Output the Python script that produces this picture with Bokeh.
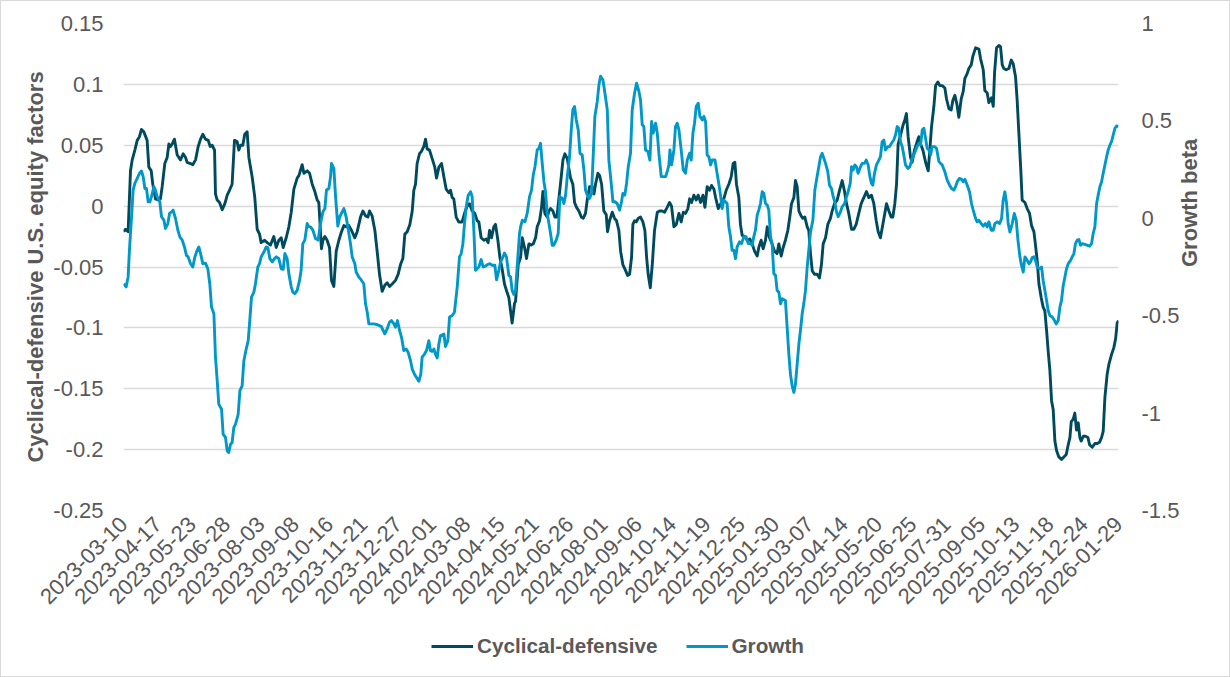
import math
from bokeh.plotting import figure
from bokeh.layouts import column
from bokeh.models import Range1d, LinearAxis, FixedTicker, Legend, LegendItem
from bokeh.embed import file_html
from bokeh.resources import INLINE

# ---- category axis (business-day index, one label every 26 days) ----
tick_labels = ["2023-03-10", "2023-04-17", "2023-05-23", "2023-06-28", "2023-08-03",
               "2023-09-08", "2023-10-16", "2023-11-21", "2023-12-27", "2024-02-01",
               "2024-03-08", "2024-04-15", "2024-05-21", "2024-06-26", "2024-08-01",
               "2024-09-06", "2024-10-14", "2024-11-19", "2024-12-25", "2025-01-30",
               "2025-03-07", "2025-04-14", "2025-05-20", "2025-06-25", "2025-07-31",
               "2025-09-05", "2025-10-13", "2025-11-18", "2025-12-24", "2026-01-29"]
label_step = 26

left_ticks = [-0.25, -0.2, -0.15, -0.1, -0.05, 0, 0.05, 0.1, 0.15]
left_tick_labels = ["-0.25", "-0.2", "-0.15", "-0.1", "-0.05", "0", "0.05", "0.1", "0.15"]
right_ticks = [-1.5, -1, -0.5, 0, 0.5, 1]
right_tick_labels = ["-1.5", "-1", "-0.5", "0", "0.5", "1"]

# ---- Cyclical-defensive (left axis) ----
cd_x = [0, 1.5, 3.5, 5.3, 6.6, 8.6, 10.4, 12.1, 13.6, 15.4,
        17.9, 19.2, 21.0, 22.2, 24.2, 26.3, 28.0, 29.3, 31.3, 33.1,
        34.4, 35.6, 36.9, 38.6, 40.7, 43.2, 45.2, 47.0, 48.2, 50.8,
        52.5, 54.6, 56.6, 58.4, 60.1, 62.1, 64.2, 65.7, 67.2, 69.0,
        69.7, 71.0, 72.8, 74.8, 76.8, 78.6, 80.3, 82.3, 84.1, 86.1,
        87.4, 88.7, 90.4, 91.9, 93.7, 95.0, 97.5, 99.5, 101.3, 103.1,
        104.3, 106.9, 108.9, 111.4, 113.9, 115.7, 117.7, 119.5, 121.0, 123.3,
        125.3, 127.1, 129.1, 131.6, 132.9, 135.4, 136.7, 139.2, 141.0, 143.0,
        145.0, 146.8, 148.0, 150.0, 151.1, 152.6, 154.3, 156.1, 157.6, 159.4,
        161.2, 163.2, 165.2, 167.0, 168.7, 170.8, 172.8, 175.3, 177.1, 179.6,
        181.4, 183.4, 185.2, 186.4, 188.4, 190.5, 192.2, 194.0, 196.0, 198.0,
        199.8, 201.6, 203.6, 206.1, 208.1, 209.9, 211.7, 213.2, 215.0, 217.0,
        218.8, 220.0, 221.3, 222.5, 224.3, 225.8, 227.6, 228.9, 230.1, 231.9,
        233.9, 235.9, 237.2, 239.0, 241.0, 242.8, 244.5, 246.5, 247.8, 249.1,
        250.3, 252.1, 254.1, 256.6, 258.7, 260.4, 262.2, 264.2, 266.2, 268.0,
        269.3, 271.0, 273.1, 274.8, 276.3, 277.4, 278.9, 280.6, 281.9, 283.7,
        285.2, 287.0, 288.7, 290.7, 292.0, 293.3, 294.5, 296.3, 297.1, 299.1,
        300.9, 302.2, 303.9, 305.4, 307.2, 309.0, 310.5, 312.3, 313.5, 315.3,
        316.8, 317.8, 319.3, 321.1, 322.4, 323.6, 325.4, 326.9, 328.4, 330.0,
        331.7, 333.0, 334.5, 336.3, 337.5, 338.8, 340.5, 341.8, 343.3, 345.1,
        346.9, 348.4, 350.1, 351.4, 353.2, 355.2, 356.5, 357.7, 359.5, 360.8,
        362.3, 364.0, 365.8, 366.8, 368.3, 370.4, 372.1, 373.6, 375.4, 376.7,
        378.4, 380.5, 382.0, 383.5, 385.0, 386.0, 387.3, 388.5, 390.1, 391.8,
        393.6, 395.1, 396.4, 397.6, 399.2, 400.7, 402.4, 404.5, 406.2, 408.2,
        410.0, 412.0, 413.8, 415.3, 417.1, 418.9, 420.9, 422.6, 424.2, 425.9,
        427.7, 429.0, 430.5, 432.2, 434.0, 435.5, 437.3, 439.1, 440.6, 442.3,
        444.1, 445.6, 447.4, 448.7, 450.7, 453.1, 454.9, 456.7, 458.7, 460.5,
        462.0, 463.3, 464.5, 466.3, 467.5, 468.8, 470.8, 472.6, 474.6, 476.4,
        478.2, 480.2, 481.4, 483.2, 484.7, 486.5, 487.8, 489.5, 491.5, 493.3,
        495.3, 496.6, 498.4, 499.9, 501.6, 503.4, 504.9, 506.2, 508.0, 509.2,
        510.5, 511.8, 513.5, 514.8, 516.3, 518.1, 519.3, 520.6, 521.9, 523.6,
        525.6, 527.4, 528.9, 530.2, 532.0, 533.7, 535.7, 537.0, 538.8, 540.8,
        542.6, 544.6, 546.4, 547.9, 549.6, 551.7, 553.4, 555.2, 557.2, 559.0,
        561.0, 563.0, 564.8, 566.8, 568.6, 570.4, 571.9, 573.6, 575.4, 576.9,
        578.2, 580.0, 581.7, 583.0, 584.5, 585.8, 587.0, 588.8, 590.6, 592.1,
        593.3, 594.6, 596.4, 597.6, 599.4, 601.4, 602.7, 604.0, 605.8, 607.8,
        609.8, 610.8, 612.3, 614.1, 615.4, 617.1, 618.6, 620.4, 622.4, 623.7,
        625.5, 627.2, 628.5, 630.0, 631.5, 633.0, 634.8, 636.3, 637.6, 639.4,
        640.6, 642.4, 643.6, 645.7, 648.2, 649.5, 651.5, 652.7, 654.5, 655.8,
        657.8, 659.1, 660.1, 661.6, 663.4, 664.6, 665.9, 667.1, 668.9, 670.9,
        672.7, 674.2, 676.0, 677.2, 678.5, 680.0, 681.0, 683.1, 684.8, 686.6,
        688.1, 689.9, 691.1, 692.4, 693.7, 695.4, 696.9, 698.2, 699.5, 700.7,
        702.0, 703.3, 704.5, 705.8, 707.1, 708.8, 710.8, 712.6, 714.4, 715.9,
        717.2, 718.2, 719.7, 720.9, 722.2, 723.5, 724.7, 725.7, 727.3, 729.0,
        730.8, 732.1, 734.1, 736.1, 737.9, 739.6, 741.2, 742.4, 743.7, 745.4,
        746.7, 748.7, 750.5, 751.8, 753.0, 754]
cd_y = [-0.021, -0.019, -0.021, 0.029, 0.038, 0.046, 0.054, 0.057, 0.063, 0.061,
        0.054, 0.032, 0.029, 0.018, 0.006, 0.005, 0.006, 0.016, 0.035, 0.040,
        0.051, 0.049, 0.051, 0.055, 0.042, 0.038, 0.043, 0.040, 0.036, 0.035,
        0.034, 0.038, 0.049, 0.055, 0.059, 0.055, 0.054, 0.049, 0.050, 0.046,
        0.010, 0.005, 0.003, -0.003, 0.002, 0.009, 0.013, 0.018, 0.054, 0.053,
        0.046, 0.050, 0.050, 0.059, 0.061, 0.040, 0.024, 0.007, -0.019, -0.023,
        -0.030, -0.028, -0.030, -0.032, -0.025, -0.034, -0.028, -0.026, -0.034, -0.026,
        -0.017, -0.005, 0.014, 0.023, 0.025, 0.034, 0.027, 0.029, 0.027, 0.018,
        0.012, 0.005, 0.003, -0.035, -0.028, -0.025, -0.028, -0.034, -0.061, -0.066,
        -0.037, -0.028, -0.021, -0.016, -0.017, -0.016, -0.020, -0.026, -0.021, -0.009,
        -0.004, -0.008, -0.009, -0.004, -0.008, -0.020, -0.037, -0.056, -0.070, -0.065,
        -0.063, -0.066, -0.064, -0.061, -0.056, -0.048, -0.043, -0.023, -0.021, -0.015,
        -0.004, 0.013, 0.018, 0.035, 0.043, 0.045, 0.049, 0.055, 0.047, 0.046,
        0.039, 0.032, 0.023, 0.032, 0.035, 0.024, 0.014, 0.011, 0.013, 0.007,
        0.006, -0.009, -0.013, -0.013, -0.005, 0.000, 0.002, -0.004, -0.006, -0.012,
        -0.013, -0.026, -0.028, -0.027, -0.030, -0.020, -0.026, -0.017, -0.015, -0.028,
        -0.042, -0.052, -0.064, -0.071, -0.075, -0.086, -0.096, -0.080, -0.078, -0.048,
        -0.042, -0.026, -0.034, -0.043, -0.031, -0.032, -0.031, -0.026, -0.017, -0.012,
        -0.001, 0.012, -0.006, -0.009, -0.004, -0.002, -0.004, -0.009, -0.009, 0.007,
        0.024, 0.038, 0.043, 0.039, 0.031, 0.023, 0.018, 0.003, -0.001, -0.004,
        -0.009, -0.010, -0.006, 0.005, 0.016, 0.016, 0.010, 0.018, 0.027, 0.025,
        0.018, -0.004, -0.007, -0.021, -0.012, -0.005, -0.010, -0.012, -0.020, -0.037,
        -0.048, -0.053, -0.057, -0.056, -0.042, -0.015, -0.012, -0.013, -0.010, -0.009,
        -0.013, -0.020, -0.042, -0.056, -0.067, -0.048, -0.020, -0.005, -0.004, -0.004,
        -0.005, -0.001, 0.003, 0.000, -0.017, -0.015, -0.006, -0.013, -0.005, -0.006,
        -0.002, 0.006, 0.003, 0.009, 0.005, 0.009, 0.003, 0.009, -0.001, 0.016,
        0.013, 0.017, 0.014, 0.007, -0.002, 0.003, 0.006, 0.013, 0.018, 0.024,
        0.035, 0.036, 0.018, 0.007, -0.015, -0.024, -0.025, -0.028, -0.027, -0.031,
        -0.037, -0.041, -0.034, -0.028, -0.035, -0.028, -0.017, -0.026, -0.031, -0.037,
        -0.039, -0.031, -0.041, -0.034, -0.028, -0.020, -0.009, 0.002, 0.007, 0.021,
        0.016, -0.004, -0.008, -0.010, -0.009, -0.017, -0.020, -0.039, -0.053, -0.056,
        -0.056, -0.059, -0.048, -0.031, -0.026, -0.015, -0.010, -0.004, 0.002, 0.005,
        0.013, 0.021, 0.012, 0.002, -0.006, -0.019, -0.019, -0.015, -0.006, 0.002,
        0.007, 0.012, 0.007, 0.009, 0.002, -0.012, -0.021, -0.026, -0.015, -0.006,
        0.002, -0.004, -0.009, -0.009, 0.002, 0.018, 0.051, 0.058, 0.066, 0.071,
        0.076, 0.057, 0.040, 0.036, 0.046, 0.053, 0.057, 0.051, 0.046, 0.036,
        0.029, 0.043, 0.065, 0.082, 0.099, 0.102, 0.099, 0.099, 0.097, 0.088,
        0.080, 0.079, 0.087, 0.091, 0.084, 0.073, 0.088, 0.094, 0.105, 0.109,
        0.113, 0.116, 0.123, 0.130, 0.129, 0.121, 0.112, 0.095, 0.093, 0.085,
        0.089, 0.082, 0.110, 0.130, 0.132, 0.131, 0.116, 0.113, 0.112, 0.113,
        0.120, 0.117, 0.106, 0.087, 0.060, 0.029, 0.005, 0.003, -0.002, -0.006,
        -0.016, -0.021, -0.032, -0.045, -0.064, -0.075, -0.083, -0.086, -0.102, -0.119,
        -0.135, -0.160, -0.167, -0.193, -0.201, -0.206, -0.208, -0.206, -0.204, -0.196,
        -0.190, -0.177, -0.175, -0.170, -0.184, -0.178, -0.190, -0.193, -0.189, -0.189,
        -0.190, -0.196, -0.198, -0.195, -0.195, -0.194, -0.190, -0.185, -0.157, -0.138,
        -0.130, -0.122, -0.116, -0.109, -0.096, -0.094]

# ---- Growth beta (right axis) ----
gr_x = [0, 2.0, 3.5, 4.5, 6.1, 7.3, 8.6, 10.4, 12.1, 13.6,
        14.9, 16.2, 17.4, 18.7, 20.0, 21.2, 23.0, 24.2, 25.5, 27.5,
        28.8, 30.6, 31.8, 33.6, 34.9, 36.4, 37.6, 39.4, 41.2, 42.7,
        44.5, 46.2, 47.7, 49.0, 50.8, 52.5, 54.1, 55.8, 57.1, 58.4,
        60.1, 62.1, 63.9, 65.4, 66.7, 68.5, 69.7, 71.0, 72.2, 74.3,
        75.5, 77.3, 78.6, 79.8, 81.1, 82.3, 83.6, 84.9, 86.9, 88.2,
        89.9, 91.2, 93.0, 94.5, 95.5, 97.0, 98.8, 100.0, 101.8, 103.1,
        104.3, 106.4, 108.1, 109.4, 110.9, 112.7, 114.4, 115.9, 117.7, 119.5,
        121.0, 122.3, 124.0, 125.3, 127.1, 128.3, 129.8, 131.6, 133.4, 134.6,
        135.9, 137.4, 139.2, 140.5, 141.7, 143.5, 145.5, 147.5, 149.3, 151.1,
        152.6, 153.8, 155.6, 156.9, 157.6, 159.4, 160.7, 162.4, 163.9, 165.7,
        167.0, 168.7, 170.8, 172.0, 173.3, 175.3, 176.3, 178.3, 180.4, 182.1,
        183.4, 184.7, 185.9, 187.7, 189.7, 191.7, 193.5, 195.3, 196.8, 198.0,
        199.8, 201.6, 203.1, 204.9, 206.1, 207.6, 209.2, 210.7, 212.4, 214.2,
        215.7, 217.5, 218.8, 220.5, 222.0, 223.8, 225.3, 226.3, 228.1, 229.6,
        231.4, 232.6, 233.9, 235.2, 236.4, 237.7, 239.0, 240.2, 242.8, 244.0,
        245.8, 247.1, 249.1, 250.8, 252.9, 254.6, 255.9, 257.2, 258.4, 259.7,
        261.2, 263.0, 264.2, 265.5, 266.7, 268.0, 269.3, 271.0, 272.6, 274.3,
        276.1, 277.6, 279.4, 281.4, 282.7, 284.4, 285.7, 287.0, 288.7, 290.2,
        292.0, 293.3, 294.5, 295.8, 297.1, 298.3, 300.1, 300.9, 302.2, 304.2,
        305.9, 307.7, 309.2, 310.5, 311.8, 313.5, 314.8, 316.0, 317.3, 318.6,
        319.8, 321.1, 322.4, 323.6, 324.9, 326.1, 327.9, 329.4, 330.7, 332.5,
        333.7, 335.0, 336.3, 338.0, 339.3, 340.5, 341.8, 343.1, 344.6, 345.9,
        347.6, 348.9, 350.1, 351.4, 353.2, 354.7, 355.9, 357.2, 359.0, 360.3,
        361.5, 363.3, 364.8, 366.6, 367.8, 369.6, 370.9, 372.4, 374.1, 375.9,
        377.4, 378.4, 379.9, 381.2, 382.5, 384.2, 385.5, 387.3, 388.8, 390.6,
        391.8, 393.1, 394.3, 395.6, 397.4, 398.9, 400.2, 401.4, 403.2, 404.5,
        405.7, 407.5, 409.0, 410.8, 412.0, 413.3, 414.1, 415.3, 417.1, 418.3,
        419.6, 420.9, 422.6, 424.2, 425.9, 427.2, 429.0, 430.2, 431.5, 432.7,
        434.0, 435.5, 436.8, 438.6, 439.8, 441.1, 442.3, 443.6, 444.9, 446.1,
        448.2, 449.4, 451.1, 452.4, 453.7, 454.9, 456.2, 457.4, 458.7, 460.0,
        461.2, 462.5, 463.8, 465.0, 466.8, 468.3, 470.1, 471.8, 473.4, 475.1,
        476.4, 477.6, 478.9, 480.2, 481.4, 482.7, 484.0, 485.2, 486.5, 487.8,
        489.0, 490.3, 491.5, 492.8, 494.1, 495.3, 496.6, 497.9, 499.1, 501.6,
        502.9, 504.2, 505.4, 506.7, 508.0, 509.2, 510.5, 511.8, 513.0, 514.3,
        515.5, 516.8, 518.1, 519.3, 520.6, 522.4, 523.9, 525.6, 526.9, 528.2,
        529.4, 530.7, 532.0, 533.7, 535.0, 536.5, 537.8, 539.0, 540.3, 541.6,
        543.3, 544.6, 546.4, 547.9, 549.1, 550.7, 551.7, 552.9, 554.2, 555.4,
        556.7, 558.0, 559.7, 561.5, 562.8, 564.3, 565.6, 566.8, 567.8, 569.1,
        570.6, 572.4, 573.6, 574.9, 576.2, 577.4, 579.2, 580.5, 582.0, 583.7,
        585.0, 586.3, 587.5, 588.8, 590.1, 591.3, 592.6, 594.4, 595.9, 597.6,
        599.4, 601.4, 602.7, 604.0, 605.3, 606.5, 607.8, 609.0, 610.3, 611.6,
        612.8, 614.6, 616.1, 617.9, 619.1, 620.4, 622.4, 624.2, 626.0, 627.5,
        629.2, 630.5, 631.8, 633.5, 635.1, 636.3, 637.6, 639.4, 641.1, 642.6,
        643.9, 645.7, 646.9, 648.2, 650.0, 651.5, 653.2, 654.5, 655.8, 657.5,
        659.1, 660.3, 662.1, 663.9, 665.4, 666.6, 667.9, 669.2, 670.4, 671.7,
        673.5, 675.0, 676.5, 677.8, 679.3, 680.5, 681.8, 683.1, 684.8, 686.1,
        687.3, 688.6, 689.9, 691.1, 692.4, 694.2, 695.7, 696.9, 698.2, 699.5,
        700.7, 702.0, 703.8, 705.5, 706.8, 708.3, 709.6, 710.8, 712.1, 713.4,
        714.6, 715.9, 717.7, 718.9, 720.2, 721.4, 722.7, 724.0, 725.2, 726.5,
        729.0, 732.1, 733.6, 734.8, 736.1, 737.4, 738.6, 739.9, 741.2, 742.4,
        743.7, 745.0, 746.2, 747.5, 748.7, 750.0, 751.3, 752.5, 754.0]
gr_y = [-0.336, -0.352, -0.301, -0.164, 0.008, 0.145, 0.179, 0.205, 0.231, 0.243,
        0.214, 0.153, 0.153, 0.085, 0.085, 0.111, 0.162, 0.145, 0.111, 0.085,
        0.008, -0.009, -0.052, -0.027, 0.025, 0.033, 0.042, -0.001, -0.061, -0.095,
        -0.112, -0.147, -0.190, -0.198, -0.233, -0.250, -0.198, -0.164, -0.147, -0.181,
        -0.233, -0.230, -0.259, -0.336, -0.456, -0.490, -0.713, -0.833, -0.954, -0.980,
        -1.108, -1.125, -1.194, -1.202, -1.160, -1.151, -1.074, -1.057, -1.006, -0.885,
        -0.860, -0.731, -0.671, -0.628, -0.542, -0.405, -0.379, -0.336, -0.250, -0.233,
        -0.198, -0.173, -0.147, -0.150, -0.207, -0.224, -0.207, -0.198, -0.207, -0.259,
        -0.262, -0.181, -0.207, -0.284, -0.352, -0.379, -0.387, -0.370, -0.319, -0.267,
        -0.130, -0.112, -0.027, -0.044, -0.044, -0.061, -0.104, -0.112, -0.027, 0.033,
        0.050, 0.145, 0.153, 0.214, 0.282, 0.256, 0.111, -0.040, 0.008, 0.033,
        0.050, 0.008, -0.078, -0.130, -0.198, -0.233, -0.276, -0.301, -0.319, -0.336,
        -0.439, -0.482, -0.542, -0.542, -0.542, -0.545, -0.550, -0.555, -0.576, -0.593,
        -0.568, -0.533, -0.525, -0.542, -0.559, -0.525, -0.576, -0.611, -0.679, -0.671,
        -0.688, -0.731, -0.774, -0.800, -0.817, -0.837, -0.800, -0.713, -0.697, -0.679,
        -0.628, -0.679, -0.683, -0.671, -0.697, -0.717, -0.645, -0.602, -0.594, -0.658,
        -0.628, -0.507, -0.499, -0.482, -0.352, -0.198, -0.181, -0.130, -0.027, 0.058,
        0.118, 0.136, 0.111, -0.061, -0.267, -0.259, -0.250, -0.212, -0.250, -0.246,
        -0.236, -0.233, -0.241, -0.241, -0.316, -0.267, -0.224, -0.207, -0.178, -0.198,
        -0.293, -0.301, -0.370, -0.391, -0.370, -0.250, -0.078, -0.044, -0.010, -0.018,
        0.025, 0.111, 0.145, 0.222, 0.265, 0.351, 0.359, 0.385, 0.282, 0.188,
        0.136, 0.025, -0.027, -0.078, -0.138, -0.138, -0.112, -0.078, 0.111, 0.102,
        0.076, 0.119, 0.214, 0.316, 0.454, 0.557, 0.574, 0.505, 0.454, 0.334,
        0.325, 0.248, 0.145, 0.119, 0.102, 0.128, 0.316, 0.523, 0.600, 0.686,
        0.729, 0.711, 0.643, 0.557, 0.299, 0.179, 0.085, 0.085, 0.076, 0.042,
        0.085, 0.128, 0.119, 0.179, 0.265, 0.334, 0.557, 0.643, 0.694, 0.651,
        0.608, 0.480, 0.471, 0.351, 0.343, 0.299, 0.497, 0.437, 0.488, 0.437,
        0.334, 0.214, 0.214, 0.214, 0.239, 0.274, 0.351, 0.274, 0.351, 0.471,
        0.488, 0.454, 0.351, 0.248, 0.231, 0.299, 0.334, 0.299, 0.437, 0.488,
        0.574, 0.591, 0.523, 0.505, 0.523, 0.497, 0.325, 0.316, 0.274, 0.299,
        0.299, 0.248, 0.179, 0.119, 0.050, 0.093, 0.085, 0.076, -0.044, -0.095,
        -0.164, -0.164, -0.207, -0.147, -0.121, -0.130, -0.095, -0.095, -0.130, -0.130,
        -0.138, -0.095, -0.061, 0.016, 0.042, 0.076, 0.136, 0.128, 0.076, 0.068,
        0.042, -0.095, -0.130, -0.284, -0.293, -0.370, -0.379, -0.439, -0.413, -0.422,
        -0.559, -0.697, -0.800, -0.860, -0.894, -0.851, -0.748, -0.645, -0.576, -0.490,
        -0.439, -0.370, -0.250, -0.164, -0.070, -0.010, 0.145, 0.214, 0.265, 0.316,
        0.334, 0.308, 0.282, 0.239, 0.170, 0.153, 0.111, 0.085, 0.033, 0.008,
        0.033, 0.059, 0.076, 0.111, 0.136, 0.179, 0.265, 0.248, 0.274, 0.265,
        0.231, 0.256, 0.282, 0.282, 0.299, 0.274, 0.214, 0.179, 0.170, 0.231,
        0.274, 0.299, 0.316, 0.393, 0.402, 0.351, 0.368, 0.368, 0.385, 0.402,
        0.428, 0.471, 0.462, 0.393, 0.368, 0.325, 0.274, 0.256, 0.265, 0.308,
        0.334, 0.368, 0.385, 0.376, 0.454, 0.462, 0.411, 0.359, 0.351, 0.325,
        0.368, 0.368, 0.359, 0.291, 0.282, 0.274, 0.239, 0.196, 0.170, 0.153,
        0.145, 0.162, 0.188, 0.205, 0.200, 0.188, 0.200, 0.170, 0.136, 0.076,
        0.042, -0.001, -0.018, -0.010, -0.027, -0.040, -0.027, -0.044, -0.018, -0.061,
        -0.061, -0.027, -0.018, -0.027, -0.001, 0.093, 0.136, 0.076, -0.027, -0.070,
        -0.027, 0.025, -0.010, -0.112, -0.198, -0.241, -0.276, -0.198, -0.216, -0.233,
        -0.224, -0.202, -0.198, -0.216, -0.250, -0.259, -0.250, -0.319, -0.370, -0.422,
        -0.473, -0.499, -0.507, -0.525, -0.542, -0.525, -0.456, -0.422, -0.345, -0.301,
        -0.259, -0.233, -0.216, -0.198, -0.181, -0.130, -0.112, -0.109, -0.138, -0.130,
        -0.135, -0.143, -0.130, -0.078, -0.044, 0.076, 0.119, 0.162, 0.188, 0.231,
        0.274, 0.316, 0.351, 0.376, 0.393, 0.428, 0.462, 0.474, 0.471]

series_names = ["Cyclical-defensive", "Growth"]

# ---- style ----
DARK = "#004A5E"
LIGHT = "#0098C9"
TXT = "#595959"
GRID = "#D9D9D9"
FONT = "Liberation Sans"
FS = "22px"
LW = 2.9

n_last = label_step * (len(tick_labels) - 1)
tick_pos = [i * label_step for i in range(len(tick_labels))]

# ---------------- main chart ----------------
p = figure(width=1228, height=619, output_backend="svg", toolbar_location=None,
           x_range=Range1d(0, n_last), y_range=Range1d(-0.25, 0.15),
           min_border_left=122, min_border_right=111, min_border_top=22,
           min_border_bottom=110)
p.outline_line_color = None
p.background_fill_color = "white"
p.border_fill_color = "white"
p.extra_y_ranges = {"g": Range1d(-1.5, 1)}

p.line(cd_x, cd_y, line_color=DARK, line_width=LW, line_join="round")
p.line(gr_x, gr_y, line_color=LIGHT, line_width=LW, line_join="round", y_range_name="g")

# x axis
xa = p.xaxis[0]
xa.ticker = FixedTicker(ticks=tick_pos)
xa.major_label_overrides = {pos: lab for pos, lab in zip(tick_pos, tick_labels)}
xa.major_label_orientation = math.pi / 4
xa.major_label_standoff = 4
xa.axis_line_color = None
xa.major_tick_line_color = None
xa.minor_tick_line_color = None
xa.major_label_text_font = FONT
xa.major_label_text_font_size = FS
xa.major_label_text_color = TXT

# left axis
ya = p.yaxis[0]
ya.ticker = FixedTicker(ticks=left_ticks)
ya.major_label_overrides = {t: s for t, s in zip(left_ticks, left_tick_labels)}
ya.axis_label = "Cyclical-defensive U.S. equity factors"
ya.axis_label_text_font = FONT
ya.axis_label_text_font_size = FS
ya.axis_label_text_font_style = "bold"
ya.axis_label_text_color = TXT
ya.axis_label_standoff = 2
ya.major_label_standoff = 14
ya.axis_line_color = None
ya.major_tick_line_color = None
ya.minor_tick_line_color = None
ya.major_label_text_font = FONT
ya.major_label_text_font_size = FS
ya.major_label_text_color = TXT

# right axis
ra = LinearAxis(y_range_name="g", ticker=FixedTicker(ticks=right_ticks))
ra.major_label_overrides = {t: s for t, s in zip(right_ticks, right_tick_labels)}
ra.axis_label = "Growth beta"
ra.axis_label_text_font = FONT
ra.axis_label_text_font_size = FS
ra.axis_label_text_font_style = "bold"
ra.axis_label_text_color = TXT
ra.axis_label_standoff = 7
ra.major_label_standoff = 17
ra.axis_line_color = None
ra.major_tick_line_color = None
ra.minor_tick_line_color = None
ra.major_label_text_font = FONT
ra.major_label_text_font_size = FS
ra.major_label_text_color = TXT
try:
    ra.axis_label_orientation = math.pi / 2
except Exception:
    pass
p.add_layout(ra, "right")

# grid
p.xgrid.visible = False
p.ygrid.ticker = FixedTicker(ticks=left_ticks)
p.ygrid.grid_line_color = GRID
p.ygrid.grid_line_width = 1.3

# ---------------- legend strip ----------------
leg = figure(width=1228, height=56, output_backend="svg", toolbar_location=None,
             x_range=Range1d(0, 1), y_range=Range1d(0, 1),
             x_axis_location=None, y_axis_location=None, min_border=0)
leg.outline_line_color = None
leg.grid.visible = False
leg.background_fill_color = "white"
leg.border_fill_color = "white"
# key renderers: one off-range point each, only used to draw the legend swatches
k_cd = leg.line([-5], [-5], line_color=DARK, line_width=LW)
k_gr = leg.line([-5], [-5], line_color=LIGHT, line_width=LW)
legend = Legend(items=[LegendItem(label=series_names[0], renderers=[k_cd]),
                       LegendItem(label=series_names[1], renderers=[k_gr])],
                orientation="horizontal", location=(308, 18),
                border_line_color=None, background_fill_alpha=0,
                padding=0, margin=0, spacing=28, label_standoff=4,
                glyph_width=42, glyph_height=22,
                label_text_font=FONT, label_text_font_size="20.7px",
                label_text_font_style="bold", label_text_color=TXT)
leg.add_layout(legend, "center")

layout = column(p, leg, spacing=0)
layout.styles = {"border": "1px solid #D9D9D9"}

open("out.html", "w").write(file_html(layout, INLINE))
